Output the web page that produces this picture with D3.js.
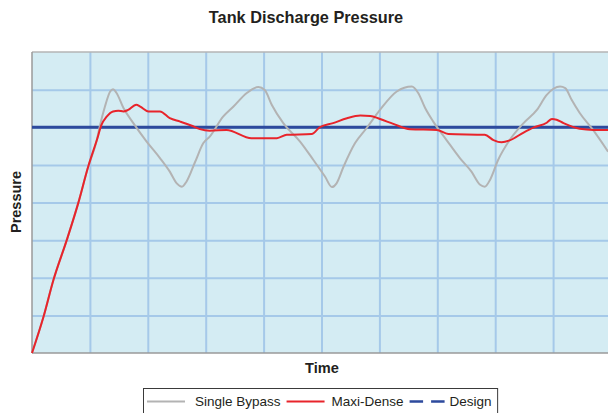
<!DOCTYPE html>
<html>
<head>
<meta charset="utf-8">
<script src="https://cdn.jsdelivr.net/npm/d3@7"></script>
<style>
  body { margin: 0; background: #fff; }
  svg { display: block; font-family: "Liberation Sans", Arial, sans-serif; }
  .grid line { stroke: #a5c9e9; stroke-width: 2; }
  .grid path { display: none; }
</style>
</head>
<body>
<svg id="chart" width="608" height="413"></svg>
<script>
// values (time units 0..10, pressure units 0..8)
var xTicks = [0, 1, 2, 3, 4, 5, 6, 7, 8, 9, 10];
var yTicks = [0, 1, 2, 3, 4, 5, 6, 7, 8];

var maxiDenseTime = [0, 0.2, 0.37, 0.6, 0.8, 0.97, 1.12, 1.2, 1.29, 1.4, 1.49, 1.58, 1.66, 1.8, 1.87,
    2.01, 2.21, 2.38, 2.56, 2.76, 2.9, 3.07, 3.36, 3.79, 4.23, 4.4, 4.83, 4.97, 5.2, 5.44, 5.67,
    5.84, 6.01, 6.24, 6.53, 6.99, 7.19, 7.82, 7.97, 8.11, 8.25, 8.49, 8.66, 8.89, 8.98, 9.06,
    9.18, 9.46, 9.69, 9.95];
var maxiDense = [0, 0.97, 1.94, 3.0, 3.99, 4.95, 5.66, 6.06, 6.28, 6.42, 6.44, 6.42, 6.46, 6.6, 6.55,
    6.42, 6.42, 6.24, 6.15, 6.04, 5.95, 5.91, 5.93, 5.71, 5.71, 5.8, 5.82, 6.0, 6.11, 6.24, 6.31,
    6.3, 6.22, 6.09, 5.95, 5.93, 5.82, 5.8, 5.66, 5.6, 5.65, 5.86, 5.99, 6.12, 6.22, 6.2,
    6.11, 5.96, 5.93, 5.93];

var singleBypassTime = [0, 0.2, 0.37, 0.6, 0.8, 0.97, 1.12, 1.17, 1.26, 1.35, 1.4, 1.46, 1.58, 1.75,
    1.98, 2.21, 2.38, 2.5, 2.59, 2.67, 2.82, 2.96, 3.07, 3.3, 3.48, 3.71, 3.91, 4.02, 4.14, 4.34,
    4.63, 4.86, 5.06, 5.18, 5.26, 5.38, 5.58, 5.78, 6.01, 6.3, 6.56, 6.67, 6.79, 6.93, 7.16,
    7.39, 7.59, 7.74, 7.82, 7.91, 8.05, 8.25, 8.49, 8.72, 8.89, 9.12, 9.21, 9.32, 9.46, 9.69, 9.95];
var singleBypass = [0, 0.97, 1.94, 3.0, 3.99, 4.95, 5.66, 6.02, 6.55, 6.95, 7.01, 6.91, 6.51, 6.11,
    5.62, 5.18, 4.82, 4.51, 4.42, 4.56, 5.09, 5.58, 5.75, 6.28, 6.55, 6.91, 7.07, 6.99, 6.6, 6.11,
    5.62, 5.13, 4.69, 4.41, 4.51, 4.95, 5.58, 5.98, 6.46, 6.95, 7.08, 6.91, 6.51, 6.15, 5.66,
    5.18, 4.82, 4.47, 4.42, 4.6, 5.13, 5.66, 6.11, 6.46, 6.86, 7.08, 7.04, 6.73, 6.38, 5.93, 5.35];

var designLevel = 6;
var seriesNames = ["Single Bypass", "Maxi-Dense", "Design"];
var seriesColors = ["#b3b3b3", "#e8242b", "#2d4a9d"];

var svg = d3.select("#chart");
var plotLeft = 32, plotRight = 611, plotTop = 52, plotBottom = 353;

var x = d3.scaleLinear().domain([0, 10]).range([plotLeft, plotRight]);
var y = d3.scaleLinear().domain([0, 8]).range([plotBottom, plotTop]);

// plot background
svg.append("rect")
    .attr("x", plotLeft).attr("y", plotTop)
    .attr("width", plotRight - plotLeft).attr("height", plotBottom - plotTop)
    .attr("fill", "#d4ecf3");

// grid
svg.append("g").attr("class", "grid")
    .attr("transform", "translate(0," + plotBottom + ")")
    .call(d3.axisBottom(x).tickValues(xTicks.slice(1, -1)).tickSize(-(plotBottom - plotTop)).tickFormat(""));
svg.append("g").attr("class", "grid")
    .attr("transform", "translate(" + plotLeft + ",0)")
    .call(d3.axisLeft(y).tickValues(yTicks.slice(1, -1)).tickSize(-(plotRight - plotLeft)).tickFormat(""));

// frame
svg.append("line").attr("x1", plotLeft).attr("x2", plotRight).attr("y1", plotTop).attr("y2", plotTop)
    .attr("stroke", "#b4b4b4").attr("stroke-width", 1.5);
svg.append("line").attr("x1", plotLeft).attr("x2", plotRight).attr("y1", plotBottom).attr("y2", plotBottom)
    .attr("stroke", "#9a9a9a").attr("stroke-width", 1.5);
svg.append("line").attr("x1", plotLeft).attr("x2", plotLeft).attr("y1", plotTop).attr("y2", plotBottom)
    .attr("stroke", "#9a9a9a").attr("stroke-width", 1.5);

var line = d3.line()
    .x(function (d) { return x(d[0]); })
    .y(function (d) { return y(d[1]); })
    .curve(d3.curveMonotoneX);

// design level
svg.append("path")
    .datum([[0, designLevel], [10, designLevel]])
    .attr("d", line)
    .attr("fill", "none")
    .attr("stroke", seriesColors[2])
    .attr("stroke-width", 3);

// single bypass
svg.append("path")
    .datum(singleBypassTime.map(function (t, i) { return [t, singleBypass[i]]; }))
    .attr("d", line)
    .attr("fill", "none")
    .attr("stroke", seriesColors[0])
    .attr("stroke-width", 2);

// maxi-dense
svg.append("path")
    .datum(maxiDenseTime.map(function (t, i) { return [t, maxiDense[i]]; }))
    .attr("d", line)
    .attr("fill", "none")
    .attr("stroke", seriesColors[1])
    .attr("stroke-width", 2);

// titles
svg.append("text")
    .attr("x", 306).attr("y", 23)
    .attr("text-anchor", "middle")
    .attr("font-size", 16.3).attr("font-weight", "bold").attr("fill", "#231f20")
    .text("Tank Discharge Pressure");
svg.append("text")
    .attr("transform", "translate(21,202) rotate(-90)")
    .attr("text-anchor", "middle")
    .attr("font-size", 14.5).attr("font-weight", "bold").attr("fill", "#231f20")
    .text("Pressure");
svg.append("text")
    .attr("x", 322).attr("y", 373)
    .attr("text-anchor", "middle")
    .attr("font-size", 14.6).attr("font-weight", "bold").attr("fill", "#231f20")
    .text("Time");

// legend
var legend = svg.append("g");
var box = legend.append("rect")
    .attr("x", 143.5).attr("y", 388.5).attr("height", 30)
    .attr("fill", "#fff").attr("stroke", "#3a3a3a").attr("stroke-width", 1);
var cx = 147, ly = 401.5;
seriesNames.forEach(function (name, i) {
    var mark = legend.append("line")
        .attr("x1", cx).attr("x2", cx + (i < 2 ? 38 : 35)).attr("y1", ly).attr("y2", ly)
        .attr("stroke", seriesColors[i]).attr("stroke-width", 2);
    if (i == 2) mark.attr("stroke-width", 2.5).attr("stroke-dasharray", "13.5,8");
    cx += i == 0 ? 48 : (i == 1 ? 45 : 40);
    var t = legend.append("text")
        .attr("x", cx).attr("y", 406)
        .attr("font-size", 13.5).attr("fill", "#231f20")
        .text(name);
    cx += t.node().getComputedTextLength() + 6;
});
box.attr("width", cx - 143.5);
</script>
</body>
</html>
